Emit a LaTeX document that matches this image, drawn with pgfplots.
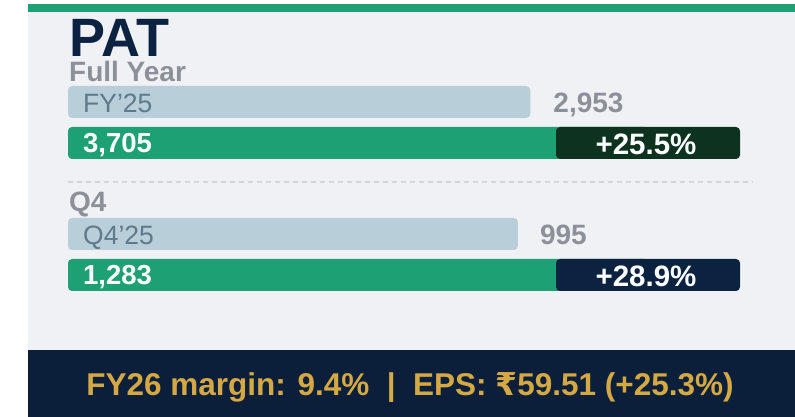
\documentclass[border=0pt]{standalone}
\usepackage{fontspec}
\setmainfont{Liberation Sans}
\newfontfamily\rupeefont{DejaVu Sans}
\usepackage{pgfplots}
\pgfplotsset{compat=1.18}

\definecolor{panelbg}{HTML}{F0F1F5}
\definecolor{accent}{HTML}{1EA075}
\definecolor{navy}{HTML}{0B2341}
\definecolor{footbg}{HTML}{0B1F3A}
\definecolor{gold}{HTML}{D4A843}
\definecolor{greytxt}{HTML}{8C9199}
\definecolor{prevbar}{HTML}{B8CED9}
\definecolor{prevtxt}{HTML}{5E7A8C}
\definecolor{badgeA}{HTML}{0D3220}
\definecolor{badgeB}{HTML}{0B2341}
\definecolor{sepline}{HTML}{D3D6DC}

\pgfplotsset{
  patbars/.style={
    width=580pt, height=82pt, scale only axis,
    anchor=south west, hide axis, clip=false,
    xmin=0, ymin=-0.5, ymax=1.5,
  },
}
\tikzset{
  barlbl/.style={anchor=base west, inner sep=0pt, xshift=15pt},
  prevval/.style={anchor=base west, inner sep=0pt, yshift=-11pt, text=greytxt, font=\fontsize{28}{30}\selectfont\bfseries},
  badge/.style={rounded corners=4pt, minimum width=184pt, minimum height=32pt, inner sep=0pt},
  badgetxt/.style={anchor=base, inner sep=0pt, yshift=-12pt, xshift=-2pt, text=white, font=\fontsize{29.5}{32}\selectfont\bfseries},
}

\begin{document}
\begin{tikzpicture}
\path[use as bounding box] (0pt,0pt) rectangle (795pt,417pt);
\fill[white] (0pt,0pt) rectangle (795pt,417pt);
\fill[panelbg] (28pt,67pt) rectangle (795pt,405pt);
\fill[accent] (28pt,405pt) rectangle (795pt,413pt);
\fill[footbg] (28pt,0pt) rectangle (795pt,67pt);

\node[anchor=base west, inner sep=0pt, text=navy, font=\fontsize{54}{60}\selectfont\bfseries] at (69pt,360pt) {PAT};
\node[anchor=base west, inner sep=0pt, text=greytxt, font=\fontsize{28}{32}\selectfont\bfseries] at (69pt,335pt) {Full Year};
\draw[sepline, line width=1.5pt, dash pattern=on 5pt off 4pt] (68pt,235pt) -- (753pt,235pt);
\node[anchor=base west, inner sep=0pt, text=greytxt, font=\fontsize{28}{32}\selectfont\bfseries] at (69pt,205pt) {Q4};

% full year
\begin{axis}[patbars, at={(68pt,253.5pt)}, xmax=3705]
\addplot[xbar, bar width=32pt, bar shift=0pt, fill=prevbar, draw=none, rounded corners=4pt] coordinates {(2953,1)};
\addplot[xbar, bar width=32pt, bar shift=0pt, fill=accent, draw=none, rounded corners=4pt] coordinates {(3705,0)};
\node[barlbl, yshift=-11pt, text=prevtxt, font=\fontsize{26.5}{30}\selectfont] at (axis cs:0,1) {FY’25};
\node[prevval, xshift=23pt] at (axis cs:2953,1) {2,953};
\node[barlbl, yshift=-10pt, text=white, font=\fontsize{27.5}{30}\selectfont\bfseries] at (axis cs:0,0) {3,705};
\node[badge, fill=badgeA] at (axis cs:3705,0) {};
\node[badgetxt] at (axis cs:3705,0) {+25.5\%};
\end{axis}

% Q4
\begin{axis}[patbars, at={(68pt,121.5pt)}, xmax=1283]
\addplot[xbar, bar width=32pt, bar shift=0pt, fill=prevbar, draw=none, rounded corners=4pt] coordinates {(995,1)};
\addplot[xbar, bar width=32pt, bar shift=0pt, fill=accent, draw=none, rounded corners=4pt] coordinates {(1283,0)};
\node[barlbl, yshift=-11pt, text=prevtxt, font=\fontsize{26.5}{30}\selectfont] at (axis cs:0,1) {Q4’25};
\node[prevval, xshift=22pt] at (axis cs:995,1) {995};
\node[barlbl, yshift=-10pt, text=white, font=\fontsize{27.5}{30}\selectfont\bfseries] at (axis cs:0,0) {1,283};
\node[badge, fill=badgeB] at (axis cs:1283,0) {};
\node[badgetxt] at (axis cs:1283,0) {+28.9\%};
\end{axis}

\node[anchor=base, inner sep=0pt, text=gold, font=\fontsize{31.5}{34}\selectfont\bfseries] at (410pt,21pt) {FY26 margin: 9.4\%~~|~~EPS: {\rupeefont\bfseries ₹}59.51 (+25.3\%)};
\end{tikzpicture}
\end{document}
